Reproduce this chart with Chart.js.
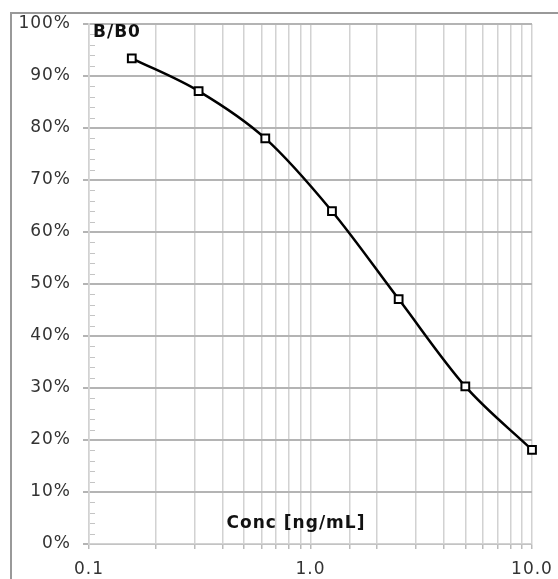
<!DOCTYPE html>
<html>
<head>
<meta charset="utf-8">
<script src="https://cdn.jsdelivr.net/npm/chart.js@4/dist/chart.umd.min.js"></script>
<style>
  html, body { margin: 0; padding: 0; background: #fff; }
</style>
</head>
<body>
<canvas id="myChart" width="558" height="579"></canvas>
<script>
// standard curve, B/B0 vs concentration
const concentrations = [0.156, 0.3125, 0.625, 1.25, 2.5, 5, 10];
const bOverB0 = [93.4, 87.1, 78.0, 64.0, 47.1, 30.3, 18.1];
const xDecadeLabels = [0.1, 1, 10];
const yLabel = "B/B0";
const xLabel = "Conc [ng/mL]";

const lineColor = "#000";
const majorGrid = "#b4b4b4";
const minorGrid = "#d2d2d2";
const tickColor = "#333";

// frame, minor y ticks and the two labels inside the plot
const extras = {
  id: "extras",
  beforeDraw(chart) {
    const ctx = chart.ctx;
    ctx.save();
    ctx.fillStyle = "#fff";
    ctx.fillRect(0, 0, chart.width, chart.height);
    ctx.strokeStyle = "#999";
    ctx.lineWidth = 2;
    ctx.strokeRect(11, 13, 700, 700);
    ctx.restore();
    ctx.letterSpacing = "1px";
  },
  afterDatasetsDraw(chart) {
    const ctx = chart.ctx;
    const y = chart.scales.y;
    const area = chart.chartArea;
    ctx.save();
    ctx.strokeStyle = "#c4c4c4";
    ctx.lineWidth = 1;
    for (let v = 0; v <= 100; v += 2) {
      if (v % 10 === 0) continue;
      const py = Math.round(y.getPixelForValue(v)) + 0.5;
      ctx.beginPath();
      ctx.moveTo(area.left + 1, py);
      ctx.lineTo(area.left + 6, py);
      ctx.stroke();
    }
    ctx.letterSpacing = "1px";
    ctx.fillStyle = "#111";
    ctx.font = "bold 17px 'DejaVu Sans'";
    ctx.textBaseline = "middle";
    ctx.textAlign = "left";
    ctx.fillText(yLabel, area.left + 4, area.top + 9);
    ctx.textAlign = "center";
    ctx.fillText(xLabel, area.left + 207, area.bottom - 20);
    ctx.restore();
  }
};

new Chart("myChart", {
  type: "line",
  data: {
    datasets: [
      {
        data: concentrations.map((c, i) => ({ x: c, y: bOverB0[i] })),
        borderColor: lineColor,
        borderWidth: 2.5,
        cubicInterpolationMode: "monotone",
        pointStyle: "rect",
        pointRadius: 5.5,
        pointBorderWidth: 2,
        pointBackgroundColor: "#fff",
        pointBorderColor: lineColor,
        clip: false,
      },
    ],
  },
  options: {
    responsive: false,
    animation: false,
    layout: { padding: { left: 0, top: 24, right: 26, bottom: 0 } },
    plugins: {
      legend: { display: false },
      tooltip: { enabled: false },
    },
    scales: {
      x: {
        type: "logarithmic",
        min: 0.1,
        max: 10,
        afterFit(scale) {
          scale.height = 35;
          scale.paddingLeft = 0;
          scale.paddingRight = 0;
        },
        grid: { color: minorGrid, lineWidth: 1.5, tickLength: 5, tickColor: "#bbb" },
        border: { color: minorGrid, width: 1.5 },
        ticks: {
          autoSkip: false,
          maxRotation: 0,
          color: tickColor,
          font: { family: "'DejaVu Sans'", size: 17 },
          padding: 10,
          callback(value) {
            return xDecadeLabels.some(d => Math.abs(d - value) < 1e-9) ? value.toFixed(1) : "";
          },
        },
      },
      y: {
        min: 0,
        max: 100,
        afterFit(scale) {
          scale.width = 89;
          scale.paddingTop = 0;
          scale.paddingBottom = 0;
        },
        grid: { color: majorGrid, lineWidth: 2, tickLength: 6, tickColor: majorGrid },
        border: { color: minorGrid, width: 1.5 },
        ticks: {
          stepSize: 10,
          color: tickColor,
          font: { family: "'DejaVu Sans'", size: 17 },
          padding: 12,
          callback: (v) => v + "%",
        },
      },
    },
  },
  plugins: [extras],
});
</script>
</body>
</html>
